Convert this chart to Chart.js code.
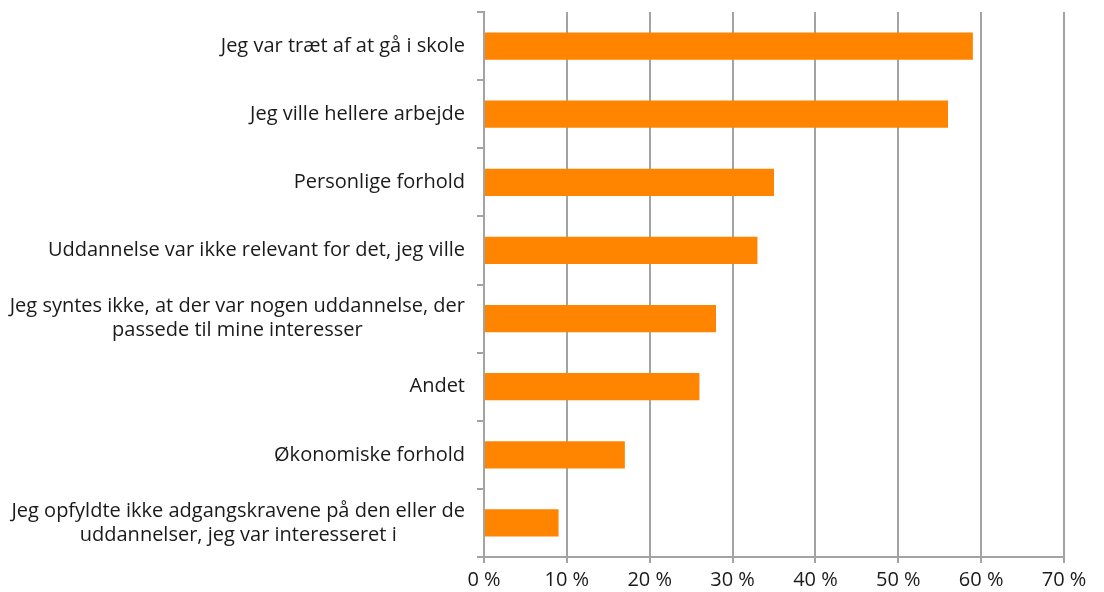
<!DOCTYPE html>
<html>
<head>
<meta charset="utf-8">
<script src="https://cdn.jsdelivr.net/npm/chart.js@4/dist/chart.umd.min.js"></script>
<style>
  html, body { margin: 0; padding: 0; background: #fff; }
  #wrap { width: 1104px; height: 592px; position: relative; }
</style>
</head>
<body>
<div id="wrap"><canvas id="reasonsChart"></canvas></div>
<script>
const categories = [
    ["Jeg var træt af at gå i skole"],
    ["Jeg ville hellere arbejde"],
    ["Personlige forhold"],
    ["Uddannelse var ikke relevant for det, jeg ville"],
    ["Jeg syntes ikke, at der var nogen uddannelse, der", "passede til mine interesser"],
    ["Andet"],
    ["Økonomiske forhold"],
    ["Jeg opfyldte ikke adgangskravene på den eller de", "uddannelser, jeg var interesseret i"]
];
const shares = [59, 56, 35, 33, 28, 26, 17, 9];
const xTicks = [0, 10, 20, 30, 40, 50, 60, 70];

const gridGrey = "#a3a3a3";
const fontFamily = "'Open Sans', 'Noto Sans', sans-serif";
const labelFont = "20px " + fontFamily;

// draws category labels: block right-aligned, lines centred on the widest one
const categoryLabels = {
    id: "categoryLabels",
    afterDraw(chart) {
        const ctx = chart.ctx;
        const yScale = chart.scales.y;
        const rightEdge = 465;
        const lineHeight = 24;
        ctx.save();
        ctx.font = labelFont;
        ctx.fillStyle = "#1a1a1a";
        ctx.textAlign = "center";
        ctx.textBaseline = "middle";
        categories.forEach((lines, i) => {
            const yc = yScale.getPixelForValue(i);
            const maxW = Math.max(...lines.map(l => ctx.measureText(l).width));
            const xc = rightEdge - maxW / 2;
            const y0 = yc - (lines.length - 1) * lineHeight / 2;
            lines.forEach((l, j) => ctx.fillText(l, xc, y0 + j * lineHeight));
        });
        ctx.restore();
    }
};

const ctx = document.getElementById("reasonsChart").getContext("2d");
new Chart(ctx, {
    type: "bar",
    data: {
        labels: categories,
        datasets: [{
            data: shares,
            backgroundColor: "#ff8400",
            barPercentage: 0.4,
            categoryPercentage: 1.0,
        }],
    },
    options: {
        indexAxis: "y",
        responsive: true,
        maintainAspectRatio: false,
        animation: false,
        layout: { padding: { top: 12, right: 40, left: 0, bottom: 0 } },
        plugins: {
            legend: { display: false },
            tooltip: { enabled: false },
        },
        scales: {
            x: {
                min: 0,
                max: 70,
                afterBuildTicks: (scale) => {
                    scale.ticks = xTicks.map(v => ({ value: v }));
                },
                afterFit: (scale) => { scale.height = 35; },
                grid: { color: gridGrey, lineWidth: 2, tickLength: 6 },
                border: { color: gridGrey, width: 2 },
                ticks: {
                    padding: 5,
                    color: "#1a1a1a",
                    font: { family: fontFamily, size: 20 },
                    callback: (v) => v + " %",
                },
            },
            y: {
                afterFit: (scale) => { scale.width = 484; },
                grid: { drawOnChartArea: false, color: gridGrey, lineWidth: 2, tickLength: 7, offset: true },
                border: { color: gridGrey, width: 2 },
                ticks: { display: false },
            },
        },
    },
    plugins: [categoryLabels],
});
</script>
</body>
</html>
